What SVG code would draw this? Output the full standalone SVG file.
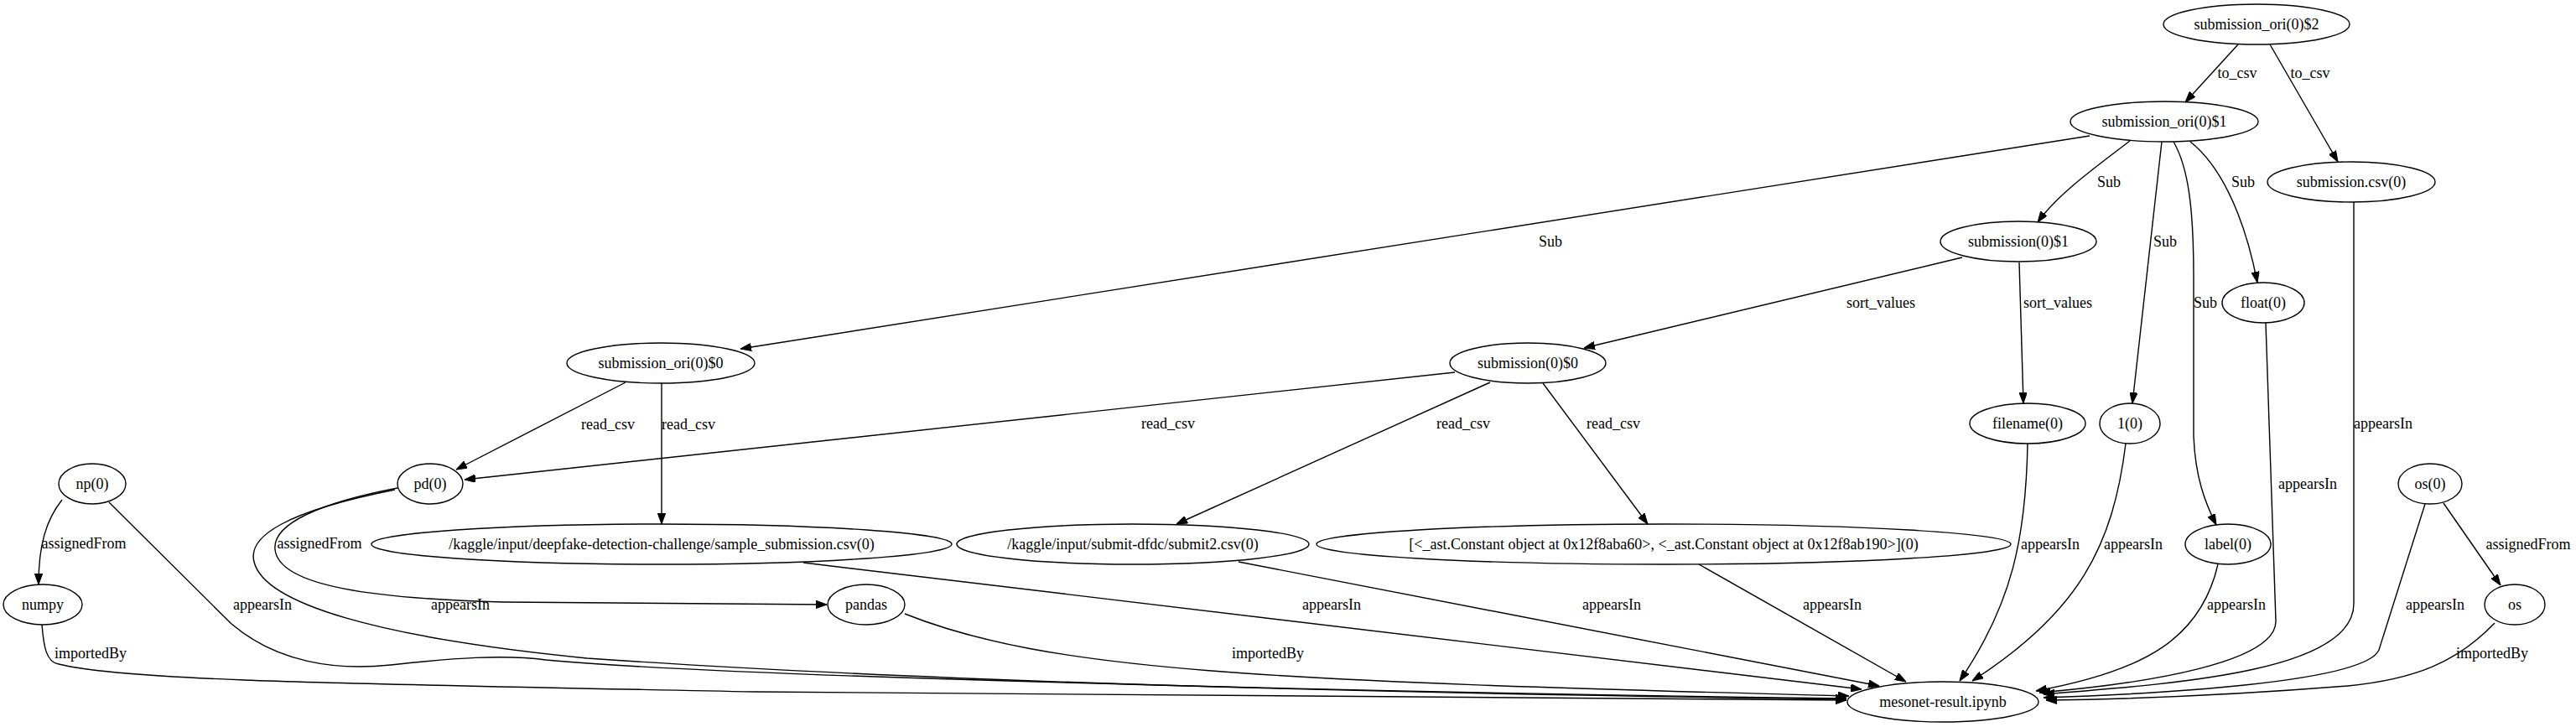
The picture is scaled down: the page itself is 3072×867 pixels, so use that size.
<svg xmlns="http://www.w3.org/2000/svg" width="3072" height="867" viewBox="0 0 3072 867">
<defs>
<style>
.n ellipse{fill:none;stroke:#000;stroke-width:1.4}
text{font-family:"Liberation Serif","Times New Roman",serif;font-size:18px;fill:#000;text-anchor:middle}
.e path{fill:none;stroke:#000;stroke-width:1.4;marker-end:url(#ah)}
</style>
<marker id="ah" viewBox="0 0 13 9.4" refX="13" refY="4.7" markerWidth="13" markerHeight="9.4" markerUnits="userSpaceOnUse" orient="auto">
<path d="M0,0 L13,4.7 L0,9.4 z" fill="#000" stroke="#000" stroke-width="1"/>
</marker>
</defs>
<rect width="3072" height="867" fill="#fff"/>
<g id="edges" class="e">
<path d="M2669,53 L2606,122"/>
<path d="M2707,53 L2788,193"/>
<path d="M2492,162 L883,416"/>
<path d="M2540,168 C2505,195 2455,230 2430,265"/>
<path d="M2578,169 L2543,481"/>
<path d="M2592,169 C2610,200 2616,250 2616,330 L2616,520 C2618,570 2630,600 2643,626"/>
<path d="M2612,169 C2645,195 2675,250 2692,337"/>
<path d="M2340,307 L1889,415"/>
<path d="M2408,313 L2413,481"/>
<path d="M746,456 L544,560"/>
<path d="M789,457 L789,625"/>
<path d="M1735,444 L554,572"/>
<path d="M1777,456 L1403,625"/>
<path d="M1840,457 L1965,625"/>
<path d="M74,596 C55,620 46,650 46,697"/>
<path d="M474,582 C380,600 325,625 328,655 C332,700 450,714 600,718 L986,721"/>
<path d="M2914,600 L2982,698"/>
<path d="M130,599 L276,744 C330,790 400,800 466,793 C540,785 600,780 651,787 C900,810 1800,828 2202,833"/>
<path d="M50,745 C52,770 55,790 70,792 C150,812 400,815 900,825 C1500,832 2000,834 2202,835"/>
<path d="M471,584 C340,610 295,640 303,670 C315,720 450,760 700,785 C1200,820 1900,830 2202,834"/>
<path d="M1079,732 C1250,800 1500,812 2205,830"/>
<path d="M958,671 L2220,822"/>
<path d="M1477,670 L2241,818"/>
<path d="M2026,673 L2273,813"/>
<path d="M2418,529 C2416,640 2400,720 2337,812"/>
<path d="M2535,529 C2520,650 2480,730 2352,812"/>
<path d="M2645,673 C2625,760 2560,800 2428,824"/>
<path d="M2702,385 L2714,740 C2716,790 2560,815 2432,826"/>
<path d="M2807,241 L2807,720 C2807,800 2600,815 2437,828"/>
<path d="M2892,601 L2837,775 C2820,815 2560,828 2437,832"/>
<path d="M2975,743 C2930,790 2880,810 2800,818 C2650,830 2520,834 2440,835"/>
<text x="2668" y="93">to_csv</text>
<text x="2755" y="93">to_csv</text>
<text x="2515" y="223">Sub</text>
<text x="2675" y="223">Sub</text>
<text x="2582" y="294">Sub</text>
<text x="2630" y="367">Sub</text>
<text x="1849" y="294">Sub</text>
<text x="2243" y="367">sort_values</text>
<text x="2454" y="367">sort_values</text>
<text x="725" y="512">read_csv</text>
<text x="821" y="512">read_csv</text>
<text x="1393" y="511">read_csv</text>
<text x="1745" y="511">read_csv</text>
<text x="1924" y="511">read_csv</text>
<text x="100" y="654">assignedFrom</text>
<text x="381" y="654">assignedFrom</text>
<text x="3015" y="655">assignedFrom</text>
<text x="313" y="727">appearsIn</text>
<text x="549" y="727">appearsIn</text>
<text x="1588" y="727">appearsIn</text>
<text x="1922" y="727">appearsIn</text>
<text x="2185" y="727">appearsIn</text>
<text x="2445" y="655">appearsIn</text>
<text x="2544" y="655">appearsIn</text>
<text x="2667" y="727">appearsIn</text>
<text x="2904" y="727">appearsIn</text>
<text x="2752" y="583">appearsIn</text>
<text x="2842" y="511">appearsIn</text>
<text x="108" y="785">importedBy</text>
<text x="1512" y="785">importedBy</text>
<text x="2972" y="785">importedBy</text>
</g>
<g id="n_sori2" class="n"><ellipse cx="2691" cy="29" rx="111" ry="24"/><text x="2691" y="35">submission_ori(0)$2</text></g>
<g id="n_sori1" class="n"><ellipse cx="2581" cy="145" rx="112" ry="24"/><text x="2581" y="151">submission_ori(0)$1</text></g>
<g id="n_subcsv" class="n"><ellipse cx="2804" cy="217" rx="100" ry="24"/><text x="2804" y="223">submission.csv(0)</text></g>
<g id="n_sub1" class="n"><ellipse cx="2407" cy="288" rx="93" ry="24"/><text x="2407" y="294">submission(0)$1</text></g>
<g id="n_float" class="n"><ellipse cx="2699" cy="361" rx="49" ry="24"/><text x="2699" y="367">float(0)</text></g>
<g id="n_sori0" class="n"><ellipse cx="788" cy="433" rx="112" ry="24"/><text x="788" y="439">submission_ori(0)$0</text></g>
<g id="n_sub0" class="n"><ellipse cx="1822" cy="433" rx="93" ry="24"/><text x="1822" y="439">submission(0)$0</text></g>
<g id="n_filename" class="n"><ellipse cx="2418" cy="505" rx="69" ry="24"/><text x="2418" y="511">filename(0)</text></g>
<g id="n_one" class="n"><ellipse cx="2540" cy="505" rx="36" ry="24"/><text x="2540" y="511">1(0)</text></g>
<g id="n_np" class="n"><ellipse cx="110" cy="577" rx="40" ry="24"/><text x="110" y="583">np(0)</text></g>
<g id="n_pd" class="n"><ellipse cx="513" cy="577" rx="39" ry="24"/><text x="513" y="583">pd(0)</text></g>
<g id="n_os0" class="n"><ellipse cx="2898" cy="577" rx="38" ry="24"/><text x="2898" y="583">os(0)</text></g>
<g id="n_sample" class="n"><ellipse cx="789" cy="649" rx="346" ry="24"/><text x="789" y="655">/kaggle/input/deepfake-detection-challenge/sample_submission.csv(0)</text></g>
<g id="n_submit2" class="n"><ellipse cx="1351" cy="649" rx="210" ry="24"/><text x="1351" y="655">/kaggle/input/submit-dfdc/submit2.csv(0)</text></g>
<g id="n_ast" class="n"><ellipse cx="1984" cy="649" rx="414" ry="24"/><text x="1984" y="655">[&lt;_ast.Constant object at 0x12f8aba60&gt;, &lt;_ast.Constant object at 0x12f8ab190&gt;](0)</text></g>
<g id="n_label" class="n"><ellipse cx="2657" cy="649" rx="51" ry="24"/><text x="2657" y="655">label(0)</text></g>
<g id="n_numpy" class="n"><ellipse cx="51" cy="721" rx="47" ry="24"/><text x="51" y="727">numpy</text></g>
<g id="n_pandas" class="n"><ellipse cx="1033" cy="721" rx="46" ry="24"/><text x="1033" y="727">pandas</text></g>
<g id="n_os" class="n"><ellipse cx="2999" cy="721" rx="36" ry="24"/><text x="2999" y="727">os</text></g>
<g id="n_mesonet" class="n"><ellipse cx="2317" cy="837" rx="114" ry="24"/><text x="2317" y="843">mesonet-result.ipynb</text></g>
</svg>
